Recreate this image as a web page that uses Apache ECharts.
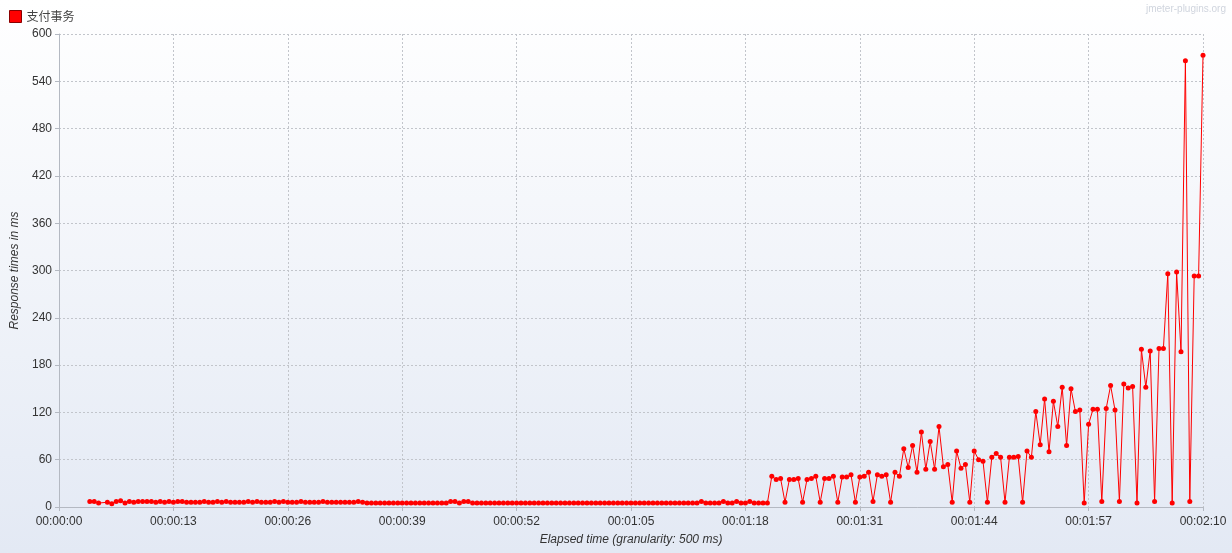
<!DOCTYPE html>
<html>
<head>
<meta charset="utf-8">
<script src="https://cdn.jsdelivr.net/npm/echarts@6/dist/echarts.min.js"></script>
<style>
html,body{margin:0;padding:0;background:#fff;}
#chart{width:1232px;height:553px;}
</style>
</head>
<body>
<div id="chart"></div>
<script>
// ---- data ----
const seriesName = '支付事务';
const startSec = 3.5;     // time of first sample
const stepSec = 0.5;      // granularity 500 ms
// 3.5 s .. 34.5 s (null = no sample in that interval)
const earlyMs = [
  7,7,5,null,6,4,7,8,5,7,
  6,7,7,7,7,6,7,6,7,6,
  7,7,6,6,6,6,7,6,6,7,
  6,7,6,6,6,6,7,6,7,6,
  6,6,7,6,7,6,6,6,7,6,
  6,6,6,7,6,6,6,6,6,6,
  6,7,6
];
// 35.0 s .. 80.5 s
const midMs = [
  5,5,5,5,5,5,5,5,5,5,
  5,5,5,5,5,5,5,5,5,7,
  7,5,7,7,5,5,5,5,5,5,
  5,5,5,5,5,5,5,5,5,5,
  5,5,5,5,5,5,5,5,5,5,
  5,5,5,5,5,5,5,5,5,5,
  5,5,5,5,5,5,5,5,5,5,
  5,5,5,5,5,5,7,5,5,5,
  5,7,5,5,7,5,5,7,5,5,
  5,5
];
// 81.0 s .. 130.0 s
const lateMs = [
  39,35,36,6,35,35,36,6,35,36,
  39,6,36,36,39,6,38,38,41,6,
  38,39,44,7,41,39,41,6,44,39,
  74,50,78,44,95,48,83,48,102,51,
  54,6,71,49,54,6,71,60,58,6,
  63,68,63,6,63,63,64,6,71,63,
  121,79,137,70,134,102,152,78,150,121,
  123,5,105,124,124,7,125,154,123,7,
  156,151,153,5,200,152,198,7,201,201,
  296,5,298,197,566,7,293,293,573
];
const xTickLabels = ['00:00:00','00:00:13','00:00:26','00:00:39','00:00:52','00:01:05','00:01:18','00:01:31','00:01:44','00:01:57','00:02:10'];
const xTickStep = 13;
const yMax = 600;
const yStep = 60;

// ---- build ----
const allMs = earlyMs.concat(midMs, lateMs);
const points = [];
allMs.forEach((v, i) => {
  if (v !== null) points.push([startSec + i * stepSec, v]);
});

const chart = echarts.init(document.getElementById('chart'), null, {renderer: 'canvas'});
const labelFont = 'Liberation Sans, Arial, sans-serif';
chart.setOption({
  animation: false,
  backgroundColor: new echarts.graphic.LinearGradient(0, 0, 0, 1, [
    {offset: 0, color: '#ffffff'},
    {offset: 1, color: '#e3e9f4'}
  ]),
  legend: {
    left: 4, top: 5,
    itemWidth: 12, itemHeight: 12, itemGap: 10,
    textStyle: {color: '#444', fontSize: 12, fontFamily: 'Noto Sans CJK SC, sans-serif'},
    data: [{name: seriesName, icon: 'rect', itemStyle: {color: '#ff0000', borderColor: '#8a0000', borderWidth: 1}}]
  },
  graphic: [{
    type: 'text', right: 6, top: 4,
    style: {text: 'jmeter-plugins.org', fill: '#d0d5de', font: '10px ' + labelFont}
  }],
  grid: {left: 59, right: 29, top: 34, bottom: 46, containLabel: false},
  xAxis: {
    type: 'value', min: 0, max: xTickStep * (xTickLabels.length - 1), interval: xTickStep,
    name: 'Elapsed time (granularity: 500 ms)', nameLocation: 'middle', nameGap: 27,
    nameTextStyle: {fontStyle: 'italic', color: '#333', fontSize: 12, fontFamily: labelFont},
    axisLine: {lineStyle: {color: '#b4b9c2', width: 1}},
    axisTick: {show: true, length: 4, lineStyle: {color: '#b4b9c2'}},
    axisLabel: {color: '#333', fontSize: 12, fontFamily: labelFont, margin: 9,
      formatter: v => xTickLabels[Math.round(v / xTickStep)] || ''},
    splitLine: {show: true, lineStyle: {color: '#c2c5cb', type: [2, 2], width: 1}}
  },
  yAxis: {
    type: 'value', min: 0, max: yMax, interval: yStep,
    name: 'Response times in ms', nameLocation: 'middle', nameGap: 37,
    nameTextStyle: {fontStyle: 'italic', color: '#333', fontSize: 12, fontFamily: labelFont},
    axisLine: {show: true, lineStyle: {color: '#b4b9c2', width: 1}},
    axisTick: {show: true, length: 4, lineStyle: {color: '#b4b9c2'}},
    axisLabel: {color: '#333', fontSize: 12, fontFamily: labelFont, margin: 7},
    splitLine: {show: true, lineStyle: {color: '#c2c5cb', type: [2, 2], width: 1}}
  },
  series: [{
    name: seriesName, type: 'line', data: points,
    symbol: 'circle', symbolSize: 5, showAllSymbol: true,
    lineStyle: {color: '#ff0000', width: 1},
    itemStyle: {color: '#ff0000'},
    connectNulls: true
  }]
});
</script>
</body>
</html>
